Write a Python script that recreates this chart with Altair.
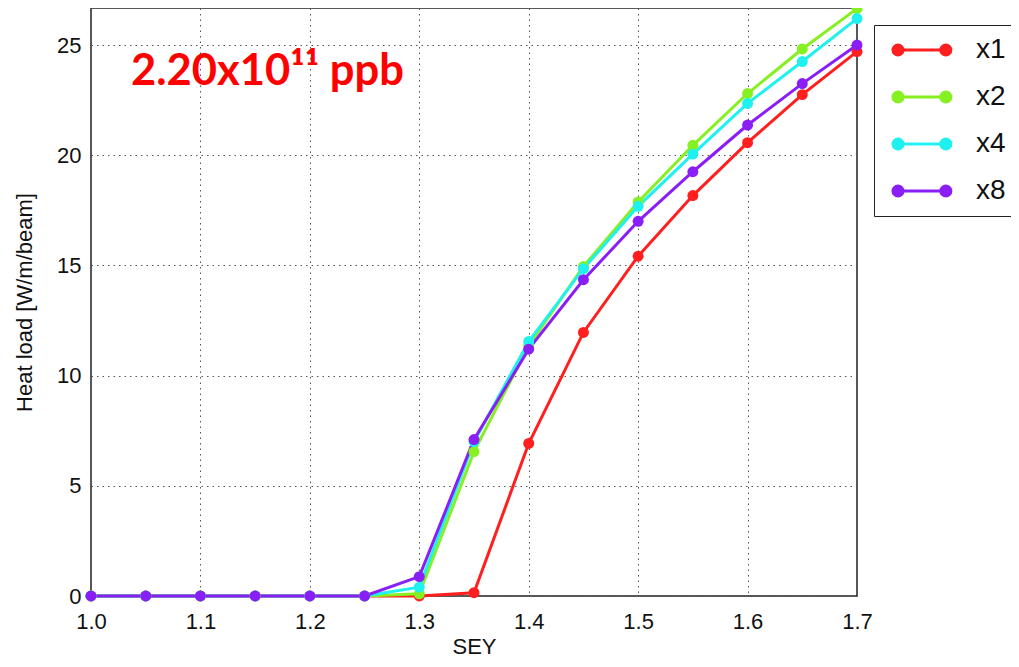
import altair as alt
import pandas as pd

sey = [1.0, 1.05, 1.1, 1.15, 1.2, 1.25, 1.3, 1.35, 1.4, 1.45, 1.5, 1.55, 1.6, 1.65, 1.7]
series_names = ["x1", "x2", "x4", "x8"]
x1 = [0, 0, 0, 0, 0, 0, 0, 0.15, 6.92, 11.96, 15.42, 18.17, 20.57, 22.75, 24.7]
x2 = [0, 0, 0, 0, 0, 0, 0.1, 6.55, 11.35, 14.95, 17.88, 20.45, 22.8, 24.82, 26.65]
x4 = [0, 0, 0, 0, 0, 0, 0.4, 7.0, 11.55, 14.85, 17.68, 20.05, 22.35, 24.25, 26.2]
x8 = [0, 0, 0, 0, 0, 0, 0.88, 7.1, 11.2, 14.35, 17.0, 19.25, 21.37, 23.25, 25.0]
colors = ["#ff1f1f", "#86f020", "#1ff0f0", "#8a1ff5"]
x_ticks = [1.0, 1.1, 1.2, 1.3, 1.4, 1.5, 1.6, 1.7]
y_ticks = [0, 5, 10, 15, 20, 25]
note_text = ["2.20x10\u00b9\u00b9 ppb"]
note_x = [1.0366]
note_y = [23.2]

rows = []
for name, vals in zip(series_names, [x1, x2, x4, x8]):
    for s, v in zip(sey, vals):
        rows.append({"SEY": s, "load": v, "series": name, "order": series_names.index(name)})
df = pd.DataFrame(rows)
note_df = pd.DataFrame({"text": note_text, "x": note_x, "y": note_y})

xscale = alt.Scale(domain=[1.0, 1.7], nice=False, zero=False)
yscale = alt.Scale(domain=[0, 26.68], nice=False)

# legend glyph: a line segment with a filled dot at each end
c1, c2, r = -0.09, 4.19, 0.45
legend_path = (f"M{c1},0L{c2},0"
               f"M{c1 - r},0a{r},{r} 0 1,0 {2 * r},0a{r},{r} 0 1,0 {-2 * r},0"
               f"M{c2 - r},0a{r},{r} 0 1,0 {2 * r},0a{r},{r} 0 1,0 {-2 * r},0")

color = alt.Color("series:N", sort=series_names,
                  scale=alt.Scale(domain=series_names, range=colors),
                  legend=alt.Legend(title=None, orient="none", legendX=783, legendY=17,
                                    symbolType=legend_path, symbolSize=500,
                                    symbolStrokeWidth=3, labelFontSize=28,
                                    labelFont="Liberation Sans", labelColor="#111",
                                    strokeColor="#222", padding=11, rowPadding=19,
                                    labelOffset=63, symbolFillColor="transparent",
                                    fillColor="white"))

base = alt.Chart(df).encode(
    x=alt.X("SEY:Q", scale=xscale,
            axis=alt.Axis(title="SEY", values=x_ticks, format=".1f", grid=True)),
    y=alt.Y("load:Q", scale=yscale,
            axis=alt.Axis(title="Heat load [W/m/beam]", values=y_ticks, grid=True)),
    color=color,
    order=alt.Order("order:Q"),
)

lines = base.mark_line(strokeWidth=3, clip=False)
points = base.mark_circle(size=120, opacity=1, clip=False)

note = alt.Chart(note_df).mark_text(
    font="Lato", fontWeight="bold", fontSize=43.5, color="#ff0000",
    align="left", baseline="alphabetic"
).encode(x=alt.X("x:Q", scale=xscale), y=alt.Y("y:Q", scale=yscale), text="text:N")

chart = alt.layer(lines, points, note).properties(
    width=766, height=588,
    autosize=alt.AutoSizeParams(type="none"),
    padding={"left": 83, "top": 0, "right": 154, "bottom": 63},
).configure_view(stroke="#222", strokeWidth=1.5).configure_axis(
    labelFont="Liberation Sans", titleFont="Liberation Sans",
    labelFontSize=22, titleFontSize=22, labelColor="#111", titleColor="#111",
    titleFontWeight="normal", gridColor="#555", gridDash=[1.5, 4], gridWidth=1,
    domain=False, ticks=False, labelFlush=False,
).configure_axisY(titlePadding=20, labelPadding=10).configure_axisX(
    titlePadding=4, labelPadding=15)

chart.save("out.html", embed_options={"renderer": "svg", "actions": False})
